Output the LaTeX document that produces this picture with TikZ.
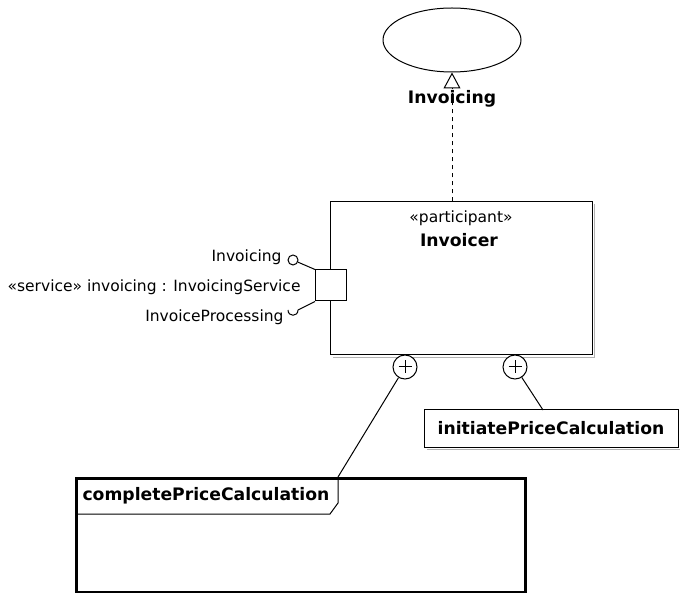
\documentclass[tikz,border=0pt]{standalone}
\usepackage{fontspec}
\setmainfont{DejaVu Sans}
\usetikzlibrary{arrows.meta,shapes.geometric,calc}
\begin{document}
\begin{tikzpicture}[x=1pt,y=-1pt,line width=1pt,
  lbl/.style={font=\fontsize{15.5}{18}\selectfont, inner sep=0pt},
  blbl/.style={font=\fontsize{17.2}{20}\selectfont\bfseries, inner sep=0pt},
  shadowline/.style={draw=black!30, line width=1.5pt},
  plusport/.style={draw, circle, minimum size=24pt, inner sep=0pt, fill=white},
  realize/.style={dashed, dash pattern=on 4pt off 4pt, -{Triangle[open,length=16pt,width=17pt]}}]
\useasboundingbox (0,0) rectangle (680,593);

% interface ellipse
\node[draw, ellipse, minimum width=138pt, minimum height=64pt, inner sep=0pt] (iface) at (452,40) {};

% participant box
\node[draw, rectangle, minimum width=262pt, minimum height=153pt, inner sep=0pt] (invoicer) at (461,278.5) {};
\draw[shadowline] ($(invoicer.north east)+(2,3)$) -- ($(invoicer.south east)+(2,2)$) -- ($(invoicer.south west)+(3,2)$);
\node[lbl] (stereo) at (461,218) {«participant»};
\node[blbl] (pname) at (459,240) {Invoicer};

% realization
\draw[realize] (invoicer.north -| iface.south) -- (iface.south);
\node[blbl] (ifname) at (452,99) {Invoicing};

% service port
\node[draw, minimum size=31pt, inner sep=0pt, fill=white] (port) at (331,285.5) {};
\node[draw, circle, minimum size=10pt, inner sep=0pt] (ball) at (293,260) {};
\draw (port.north west) -- (ball);
\node[lbl, anchor=east] (lInv) at (282,257) {Invoicing};
\node[lbl, anchor=east] (lsvc) at (301,287) {«service» invoicing : InvoicingService};
\coordinate (sock) at (298,310);
\draw (port.south west) -- (sock);
\draw (sock) .. controls ($(sock)+(0,7)$) and ($(sock)+(-10,7)$) .. ($(sock)+(-10,0)$);
\node[lbl, anchor=east] (lproc) at (284,317) {InvoiceProcessing};

% owned behaviour ports
\node[plusport] (p1) at (405,367) {};
\draw (p1.center) +(-6.5,0) -- +(6.5,0) (p1.center) +(0,-6.5) -- +(0,6.5);
\node[plusport] (p2) at (515,367) {};
\draw (p2.center) +(-6.5,0) -- +(6.5,0) (p2.center) +(0,-6.5) -- +(0,6.5);

% initiatePriceCalculation
\node[draw, fill=white, minimum width=254pt, minimum height=37pt, inner sep=0pt, blbl] (init) at (551,428.5) {initiatePriceCalculation};
\draw[shadowline] ($(init.north east)+(2,3)$) -- ($(init.south east)+(2,2)$) -- ($(init.south west)+(3,2)$);
\coordinate (initA) at (543,410);
\draw (p2) -- (initA);

% completePriceCalculation frame
\node[draw, line width=3pt, minimum width=449pt, minimum height=114pt, inner sep=0pt, anchor=north west] (frame) at (75,477) {};
\coordinate (tab) at (338,477);
\draw (tab) -- (338,503) -- (330,514) -- (frame.west |- 0,514);
\node[blbl, anchor=west] (cpc) at (82,496) {completePriceCalculation};
\draw (p1) -- (tab);
\end{tikzpicture}
\end{document}
